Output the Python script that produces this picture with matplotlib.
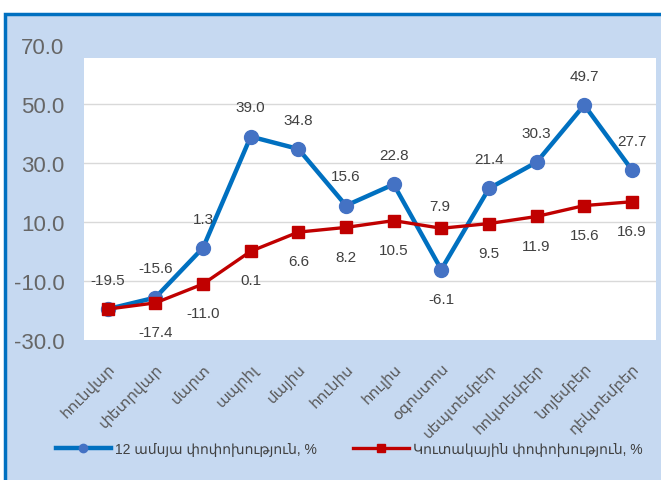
import matplotlib
matplotlib.use("Agg")
import matplotlib.pyplot as plt
from matplotlib.patches import Rectangle

plt.rcParams['font.family'] = ['Liberation Sans', 'DejaVu Sans']

# Ամիսներ
months = ["հունվար", "փետրվար", "մարտ", "ապրիլ", "մայիս", "հունիս",
          "հուլիս", "օգոստոս", "սեպտեմբեր", "հոկտեմբեր", "նոյեմբեր", "դեկտեմբեր"]
yoy = [-19.5, -15.6, 1.3, 39.0, 34.8, 15.6, 22.8, -6.1, 21.4, 30.3, 49.7, 27.7]
cumul = [-19.5, -17.4, -11.0, 0.1, 6.6, 8.2, 10.5, 7.9, 9.5, 11.9, 15.6, 16.9]
yticks = [-30, -10, 10, 30, 50, 70]

label_yoy = "12 ամսյա փոփոխություն, %"
label_cum = "Կուտակային փոփոխություն, %"

fig = plt.figure(figsize=(6.61, 4.81), dpi=100)
fig.patch.set_facecolor("white")

# light blue panel with blue border
fig.patches.append(Rectangle((5 / 661, -0.05), 1.1, 1 - 15 / 481 + 0.05,
                             transform=fig.transFigure, facecolor="#C6D9F1",
                             edgecolor="#0070C0", lw=2.5, zorder=-10))

ax = fig.add_axes([0.127, 0.291, 0.865, 0.613])
ax.set_zorder(1)
ax.patch.set_visible(False)
x = list(range(len(months)))
ax.set_xlim(-0.5, len(months) - 0.5)
ax.set_ylim(-30, 70)

# white plot area (stops below the 70 tick)
ax.add_patch(Rectangle((-0.5, -30), len(months), 95.6, facecolor="white",
                       edgecolor="none", zorder=0))
for v in yticks[1:-1]:
    ax.axhline(v, color="#D9D9D9", lw=1, zorder=1)

for s in ax.spines.values():
    s.set_visible(False)

ax.plot(x, yoy, color="#0070C0", lw=3.2, marker="o", ms=10,
        mfc="#4472C4", mec="#4472C4", zorder=3, label=label_yoy)
ax.plot(x, cumul, color="#C00000", lw=2.4, marker="s", ms=9,
        mfc="#C00000", mec="#C00000", zorder=4, label=label_cum)

lab_kw = dict(ha="center", va="center", fontsize=11, color="#404040", zorder=5)
for i, v in enumerate(yoy):
    off = -21 if i == 7 else 21
    ax.annotate(f"{v:.1f}", (i, v), xytext=(0, off), textcoords="offset points", **lab_kw)
for i, v in enumerate(cumul):
    if i == 0:
        continue
    if i == 7:
        ax.annotate(f"{v:.1f}", (i, v), xytext=(-1, 16), textcoords="offset points",
                    ha="center", va="center", fontsize=11, color="#404040", zorder=2)
        continue
    ax.annotate(f"{v:.1f}", (i, v), xytext=(0, -21), textcoords="offset points", **lab_kw)

ax.set_yticks(yticks)
ax.set_yticklabels([f"{t:.1f}" for t in yticks], fontsize=16, color="#666666")
ax.set_xticks(x)
ax.set_xticklabels(months, rotation=45, ha="right", rotation_mode="anchor",
                   fontsize=11, color="#595959")
ax.tick_params(axis="both", length=0)
ax.tick_params(axis="y", pad=14)
ax.tick_params(axis="x", pad=15)

fig.legend(loc="center left", bbox_to_anchor=(43 / 661, 1 - 450 / 481), ncol=2,
           frameon=False, fontsize=10, labelcolor="#404040", handlelength=4,
           columnspacing=2.6, handletextpad=0.3, markerscale=0.6)

fig.savefig("out.png", dpi=100)
